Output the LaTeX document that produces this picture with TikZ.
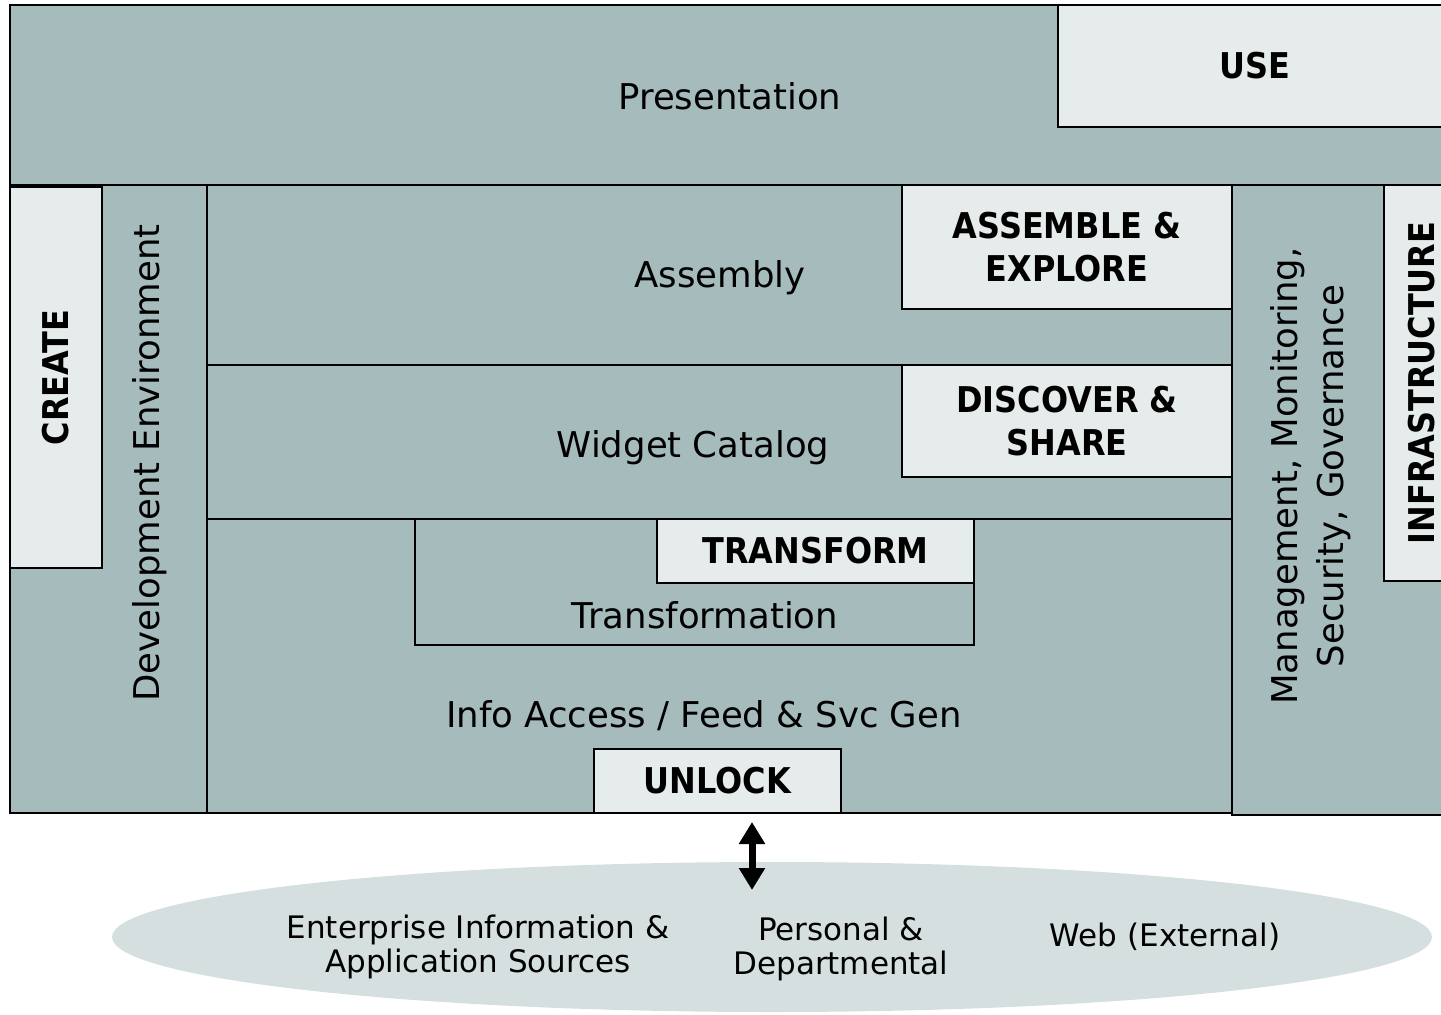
\documentclass[tikz,border=0pt]{standalone}
\usepackage{fontspec}
\setmainfont{DejaVu Sans}
\newfontfamily\tagfont{DejaVu Sans Condensed}
\usepackage{xcolor}
\usepackage{tikz}
\usetikzlibrary{shapes.geometric, arrows.meta, positioning}

\definecolor{layergray}{HTML}{A6BBBC}
\definecolor{tagfill}{HTML}{E6ECEC}
\definecolor{srcfill}{HTML}{D6DFDF}

\begin{document}
\begin{tikzpicture}[
    x=1pt, y=-1pt,
    layer/.style={rectangle, draw=black, line width=2.7pt, fill=layergray, inner sep=0pt},
    tag/.style={rectangle, draw=black, line width=2.7pt, fill=tagfill, inner sep=0pt, align=center, font=\tagfont\bfseries\fontsize{35.5}{43}\selectfont},
    lbl/.style={inner sep=0pt, align=center, font=\fontsize{35.5}{46}\selectfont},
    srctext/.style={inner sep=0pt, align=center, font=\fontsize{31}{34}\selectfont},
    arrow/.style={{Triangle[length=22pt,width=25pt]}-{Triangle[length=22pt,width=25pt]}, line width=7pt}
]
\useasboundingbox (0,0) rectangle (1441,1015);

\node[layer, minimum width=1441, minimum height=180] (presentation) at (730.5,95) {};
\node[layer, minimum width=197, minimum height=628] (devenv) at (108.5,499) {};
\node[layer, minimum width=1025, minimum height=180] (assembly) at (719.5,275) {};
\node[layer, minimum width=1025, minimum height=154] (catalog) at (719.5,442) {};
\node[layer, minimum width=1025, minimum height=294] (access) at (719.5,666) {};
\node[layer, minimum width=228, minimum height=630] (mgmt) at (1346,500) {};
\node[layer, minimum width=559, minimum height=126] (transformation) at (694.5,582) {};

\node[lbl] (presentationtxt) at (730,96) {Presentation};
\node[lbl] (assemblytxt) at (720,278) {Assembly};
\node[lbl] (catalogtxt) at (693,448) {Widget Catalog};
\node[lbl] (transformationtxt) at (705,615) {Transformation};
\node[lbl] (accesstxt) at (704,716) {Info Access / Feed \& Svc Gen};
\node[lbl, rotate=90] (devenvtxt) at (150,463) {Development Environment};
\node[lbl, rotate=90] (mgmttxt) at (1311,476) {Management, Monitoring,\\Security, Governance};

\node[tag, minimum width=393, minimum height=122] (use) at (1254.5,66) {USE};
\node[tag, minimum width=330, minimum height=124] (assemble) at (1067,247) {ASSEMBLE \&\\EXPLORE};
\node[tag, minimum width=330, minimum height=112] (discover) at (1067,421) {DISCOVER \&\\SHARE};
\node[tag, minimum width=317, minimum height=64] (transform) at (815.5,551) {TRANSFORM};
\node[tag, minimum width=247, minimum height=64] (unlock) at (717.5,781) {UNLOCK};
\node[tag, rotate=90, minimum width=381, minimum height=92] (create) at (56,377.5) {CREATE};
\node[tag, rotate=90, minimum width=396, minimum height=76] (infra) at (1422,383) {INFRASTRUCTURE};

\node[ellipse, fill=srcfill, minimum width=1320, minimum height=150, inner sep=0pt] (sources) at (772,937) {};
\node[srctext] (enterprise) at (478,947) {Enterprise Information \&\\Application Sources};
\node[srctext] (personal) at (841,949) {Personal \&\\Departmental};
\node[srctext] (web) at (1165,937) {Web (External)};

\coordinate (arrtop) at (752,822);
\coordinate (arrbot) at (752,890);
\draw[arrow] (arrtop) -- (arrbot);

\end{tikzpicture}
\end{document}
